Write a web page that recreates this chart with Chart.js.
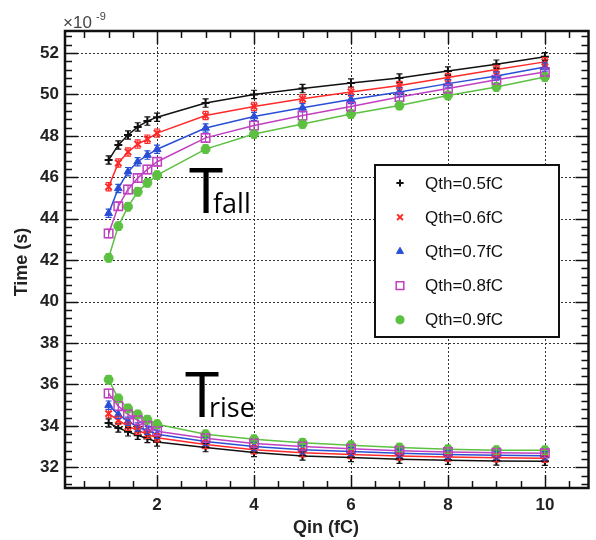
<!DOCTYPE html>
<html>
<head>
<meta charset="utf-8">
<script src="https://cdn.jsdelivr.net/npm/chart.js@4.4.1/dist/chart.umd.min.js"></script>
<style>
  body { margin: 0; background: #fff; }
  #wrap { width: 596px; height: 540px; }
</style>
</head>
<body>
<div id="wrap"><canvas id="myChart" width="596" height="540"></canvas></div>
<script>
// Qin values (fC)
const qin = [1, 1.2, 1.4, 1.6, 1.8, 2, 3, 4, 5, 6, 7, 8, 9, 10];

// fall time (x1e-9 s)
const fall05 = [46.83, 47.56, 48.04, 48.43, 48.71, 48.9, 49.58, 50.0, 50.28, 50.55, 50.79, 51.13, 51.46, 51.82];
const fall06 = [45.54, 46.69, 47.22, 47.6, 47.84, 48.13, 48.98, 49.42, 49.79, 50.12, 50.43, 50.81, 51.2, 51.57];
const fall07 = [44.26, 45.46, 46.27, 46.75, 47.07, 47.35, 48.38, 48.93, 49.35, 49.75, 50.12, 50.52, 50.89, 51.32];
const fall08 = [43.29, 44.6, 45.41, 45.96, 46.38, 46.75, 47.9, 48.5, 48.98, 49.42, 49.87, 50.28, 50.71, 51.08];
const fall09 = [42.11, 43.64, 44.58, 45.3, 45.73, 46.1, 47.36, 48.09, 48.57, 49.05, 49.46, 49.95, 50.36, 50.84];

// rise time (x1e-9 s)
const rise05 = [34.14, 33.9, 33.71, 33.55, 33.39, 33.22, 32.95, 32.71, 32.55, 32.47, 32.39, 32.34, 32.3, 32.29];
const rise06 = [34.59, 34.27, 33.98, 33.79, 33.59, 33.43, 33.1, 32.85, 32.7, 32.62, 32.55, 32.5, 32.46, 32.44];
const rise07 = [35.0, 34.55, 34.22, 33.95, 33.79, 33.59, 33.25, 33.0, 32.85, 32.76, 32.68, 32.62, 32.58, 32.56];
const rise08 = [35.56, 34.95, 34.55, 34.27, 34.0, 33.74, 33.4, 33.15, 33.0, 32.9, 32.8, 32.74, 32.7, 32.68];
const rise09 = [36.23, 35.32, 34.84, 34.55, 34.3, 34.08, 33.59, 33.35, 33.19, 33.06, 32.95, 32.87, 32.82, 32.82];

const errY = 0.2;

const seriesNames = ["Qth=0.5fC", "Qth=0.6fC", "Qth=0.7fC", "Qth=0.8fC", "Qth=0.9fC"];
const xTicks = [2, 4, 6, 8, 10];
const yTicks = [32, 34, 36, 38, 40, 42, 44, 46, 48, 50, 52];

const styles = [
    { color: "#111111", pointStyle: "cross", radius: 4, fill: "#111111", bw: 2 },
    { color: "#ff2a2a", pointStyle: "crossRot", radius: 4.5, fill: "#ff2a2a", bw: 2 },
    { color: "#2a4fd6", pointStyle: "triangle", radius: 4.5, fill: "#2a4fd6", bw: 1 },
    { color: "#c040c0", pointStyle: "rect", radius: 6, fill: "rgba(0,0,0,0)", bw: 1.5 },
    { color: "#5cc040", pointStyle: "circle", radius: 4.5, fill: "#5cc040", bw: 1 },
];

const fallSets = [fall05, fall06, fall07, fall08, fall09];
const riseSets = [rise05, rise06, rise07, rise08, rise09];

function makeSet(label, values, st) {
    return {
        label: label,
        data: qin.map((q, i) => ({ x: q, y: values[i] })),
        showLine: true,
        borderColor: st.color,
        borderWidth: 1.5,
        backgroundColor: st.fill,
        pointStyle: st.pointStyle,
        pointRadius: st.radius,
        pointBorderWidth: st.bw,
        pointBorderColor: st.color,
        pointBackgroundColor: st.fill,
        tension: 0,
    };
}

let datasets = [];
styles.forEach((st, i) => {
    datasets.push(makeSet(seriesNames[i], fallSets[i], st));
    datasets.push(makeSet(seriesNames[i] + " rise", riseSets[i], st));
});

// dotted grid + inward ticks + frame, like a ROOT canvas
const framePlugin = {
    id: "frame",
    beforeDatasetsDraw(chart) {
        const { ctx, chartArea: a, scales } = chart;
        ctx.save();
        ctx.strokeStyle = "#333";
        ctx.lineWidth = 1;
        ctx.setLineDash([2, 2]);
        xTicks.forEach(v => {
            const px = Math.round(scales.x.getPixelForValue(v)) + 0.5;
            ctx.beginPath(); ctx.moveTo(px, a.top); ctx.lineTo(px, a.bottom); ctx.stroke();
        });
        yTicks.forEach(v => {
            const py = Math.round(scales.y.getPixelForValue(v)) + 0.5;
            ctx.beginPath(); ctx.moveTo(a.left, py); ctx.lineTo(a.right, py); ctx.stroke();
        });
        ctx.restore();
    },
    afterDatasetsDraw(chart) {
        // error bars
        const { ctx, scales } = chart;
        ctx.save();
        chart.data.datasets.forEach((ds, di) => {
            const meta = chart.getDatasetMeta(di);
            ctx.strokeStyle = ds.borderColor;
            ctx.lineWidth = 1.2;
            meta.data.forEach((pt, i) => {
                const v = ds.data[i].y;
                const y1 = scales.y.getPixelForValue(v - errY);
                const y2 = scales.y.getPixelForValue(v + errY);
                ctx.beginPath();
                ctx.moveTo(pt.x, y1); ctx.lineTo(pt.x, y2);
                ctx.moveTo(pt.x - 3, y1); ctx.lineTo(pt.x + 3, y1);
                ctx.moveTo(pt.x - 3, y2); ctx.lineTo(pt.x + 3, y2);
                ctx.stroke();
            });
        });
        ctx.restore();
    },
    afterDraw(chart) {
        const { ctx, chartArea: a, scales } = chart;
        ctx.save();
        ctx.strokeStyle = "#111";
        ctx.lineWidth = 1.5;
        ctx.setLineDash([]);
        // x ticks (bottom + top)
        for (let v = 0.5; v <= 10.5; v += 0.5) {
            const major = xTicks.includes(v);
            const len = major ? 13 : 7;
            const px = Math.round(scales.x.getPixelForValue(v)) + 0.5;
            ctx.beginPath();
            ctx.moveTo(px, a.bottom); ctx.lineTo(px, a.bottom - len);
            ctx.moveTo(px, a.top); ctx.lineTo(px, a.top + len);
            ctx.stroke();
        }
        // y ticks (left + right)
        for (let k = 0; k <= 55; k++) {
            const v = +(31.2 + k * 0.4).toFixed(1);
            if (v > 53) break;
            const major = yTicks.includes(v);
            const len = major ? 13 : 7;
            const py = Math.round(scales.y.getPixelForValue(v)) + 0.5;
            ctx.beginPath();
            ctx.moveTo(a.left, py); ctx.lineTo(a.left + len, py);
            ctx.moveTo(a.right, py); ctx.lineTo(a.right - len, py);
            ctx.stroke();
        }
        ctx.lineWidth = 2.5;
        ctx.strokeRect(a.left, a.top, a.right - a.left, a.bottom - a.top);

        // axis titles and exponent
        ctx.fillStyle = "#222";
        ctx.font = "bold 18px 'Liberation Sans', Arial, sans-serif";
        ctx.textAlign = "center";
        ctx.textBaseline = "middle";
        ctx.fillText("Qin (fC)", 326, 528);
        ctx.save();
        ctx.translate(22, 262);
        ctx.rotate(-Math.PI / 2);
        ctx.fillText("Time (s)", 0, 0);
        ctx.restore();

        ctx.fillStyle = "#444";
        ctx.textAlign = "left";
        ctx.textBaseline = "alphabetic";
        ctx.font = "17px 'Liberation Sans', Arial, sans-serif";
        ctx.fillText("\u00d710", 63, 28);
        ctx.font = "11px 'Liberation Sans', Arial, sans-serif";
        ctx.fillText("-9", 96, 20);

        // T_fall / T_rise labels
        ctx.fillStyle = "#000";
        ctx.font = "62px 'Open Sans', 'Liberation Sans', sans-serif";
        ctx.fillText("T", 189, 213);
        ctx.fillText("T", 185, 417);
        ctx.font = "27px 'Open Sans', 'Liberation Sans', sans-serif";
        ctx.fillText("fall", 213, 213);
        ctx.fillText("rise", 209, 417);

        // legend box
        const lx = 375, ly = 165, lw = 184, lh = 172;
        ctx.fillStyle = "#fff";
        ctx.fillRect(lx, ly, lw, lh);
        ctx.strokeStyle = "#111";
        ctx.lineWidth = 2;
        ctx.strokeRect(lx, ly, lw, lh);
        ctx.font = "17px 'Liberation Sans', Arial, sans-serif";
        ctx.textBaseline = "middle";
        seriesNames.forEach((name, i) => {
            const st = styles[i];
            const cy = 183 + i * 34.2;
            ctx.fillStyle = st.fill;
            ctx.strokeStyle = st.color;
            ctx.lineWidth = st.bw;
            Chart.helpers.drawPoint(ctx, {
                pointStyle: st.pointStyle,
                radius: st.radius * 0.9,
                rotation: 0,
                borderWidth: st.bw,
            }, 400, cy);
            ctx.fillStyle = "#111";
            ctx.fillText(name, 425, cy + 1);
        });
        ctx.restore();
    },
};

let buildChart = function () {
    const ctx = document.getElementById("myChart");
    new Chart(ctx, {
        type: "scatter",
        data: { datasets: datasets },
        options: {
            responsive: false,
            animation: false,
            layout: { padding: { left: 10, right: 7, top: 31, bottom: 0 } },
            plugins: {
                legend: { display: false },
                tooltip: { enabled: false },
            },
            scales: {
                x: {
                    type: "linear",
                    min: 0.1,
                    max: 10.9,
                    grid: { display: false, drawTicks: false },
                    border: { display: false },
                    afterBuildTicks: s => { s.ticks = xTicks.map(v => ({ value: v })); },
                    afterFit: s => { s.height = 52; },
                    ticks: {
                        padding: 7,
                        color: "#222",
                        maxRotation: 0,
                        font: { family: "'Liberation Sans', Arial, sans-serif", size: 17, weight: "bold" },
                    },
                },
                y: {
                    min: 31,
                    max: 53.06,
                    grid: { display: false, drawTicks: false },
                    border: { display: false },
                    afterBuildTicks: s => { s.ticks = yTicks.map(v => ({ value: v })); },
                    afterFit: s => { s.width = 55; },
                    ticks: {
                        padding: 6,
                        color: "#222",
                        font: { family: "'Liberation Sans', Arial, sans-serif", size: 17, weight: "bold" },
                    },
                },
            },
        },
        plugins: [framePlugin],
    });
};

buildChart();
</script>
</body>
</html>
